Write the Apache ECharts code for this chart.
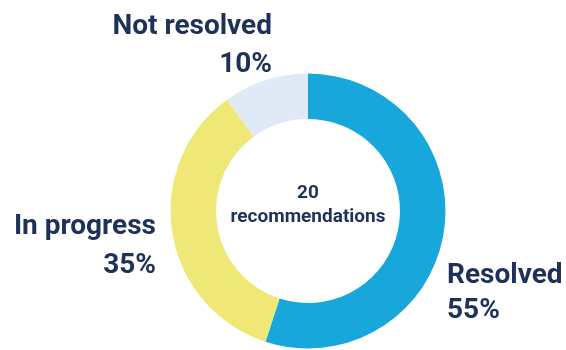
<!DOCTYPE html>
<html>
<head>
<meta charset="utf-8">
<script src="https://cdn.jsdelivr.net/npm/echarts@6/dist/echarts.min.js"></script>
<style>
html,body{margin:0;padding:0;background:#fff;}
#chart{width:566px;height:350px;}
</style>
</head>
<body>
<div id="chart"></div>
<script>
const categories = ['Resolved', 'In progress', 'Not resolved'];
const shares = [55, 35, 10];
const totalRecommendations = 20;
const centerLabel = 'recommendations';
const colors = ['#18a7db', '#efe776', '#dfeaf6'];

const labelPlacement = [
  { x: 447, y: 258, align: 'left', lh: 35 },
  { x: 156, y: 207, align: 'right', lh: 39 },
  { x: 272, y: 8, align: 'right', lh: 38 }
];

const chart = echarts.init(document.getElementById('chart'), null, { renderer: 'canvas' });
const navy = '#1e3158';
const fs = 28;
chart.setOption({
  animation: false,
  series: [{
    type: 'pie',
    center: [308, 211],
    radius: [92, 137.5],
    startAngle: 90,
    clockwise: true,
    silent: true,
    data: categories.map((c, i) => ({
      name: c,
      value: shares[i],
      itemStyle: { color: colors[i] },
      label: {
        rich: {
          n: { fontSize: fs, fontWeight: 'bold', color: navy, fontFamily: 'Roboto', lineHeight: labelPlacement[i].lh, align: labelPlacement[i].align },
          v: { fontSize: fs, fontWeight: 'bold', color: navy, fontFamily: 'Roboto', lineHeight: labelPlacement[i].lh, align: labelPlacement[i].align }
        }
      }
    })),
    label: {
      show: true,
      position: 'outside',
      overflow: 'none',
      bleedMargin: 0,
      formatter: p => '{n|' + p.name + '}\n{v|' + p.value + '%}'
    },
    labelLine: { show: false },
    labelLayout: p => {
      const lp = labelPlacement[p.dataIndex];
      return { x: lp.x, y: lp.y, align: lp.align, verticalAlign: 'top', hideOverlap: false, moveOverlap: null };
    }
  }],
  graphic: [{
    type: 'text',
    x: 308,
    y: 181,
    style: {
      text: totalRecommendations + '\n' + centerLabel,
      textAlign: 'center',
      textVerticalAlign: 'top',
      fill: navy,
      font: 'bold 19px Roboto',
      lineHeight: 24
    }
  }]
});
</script>
</body>
</html>
